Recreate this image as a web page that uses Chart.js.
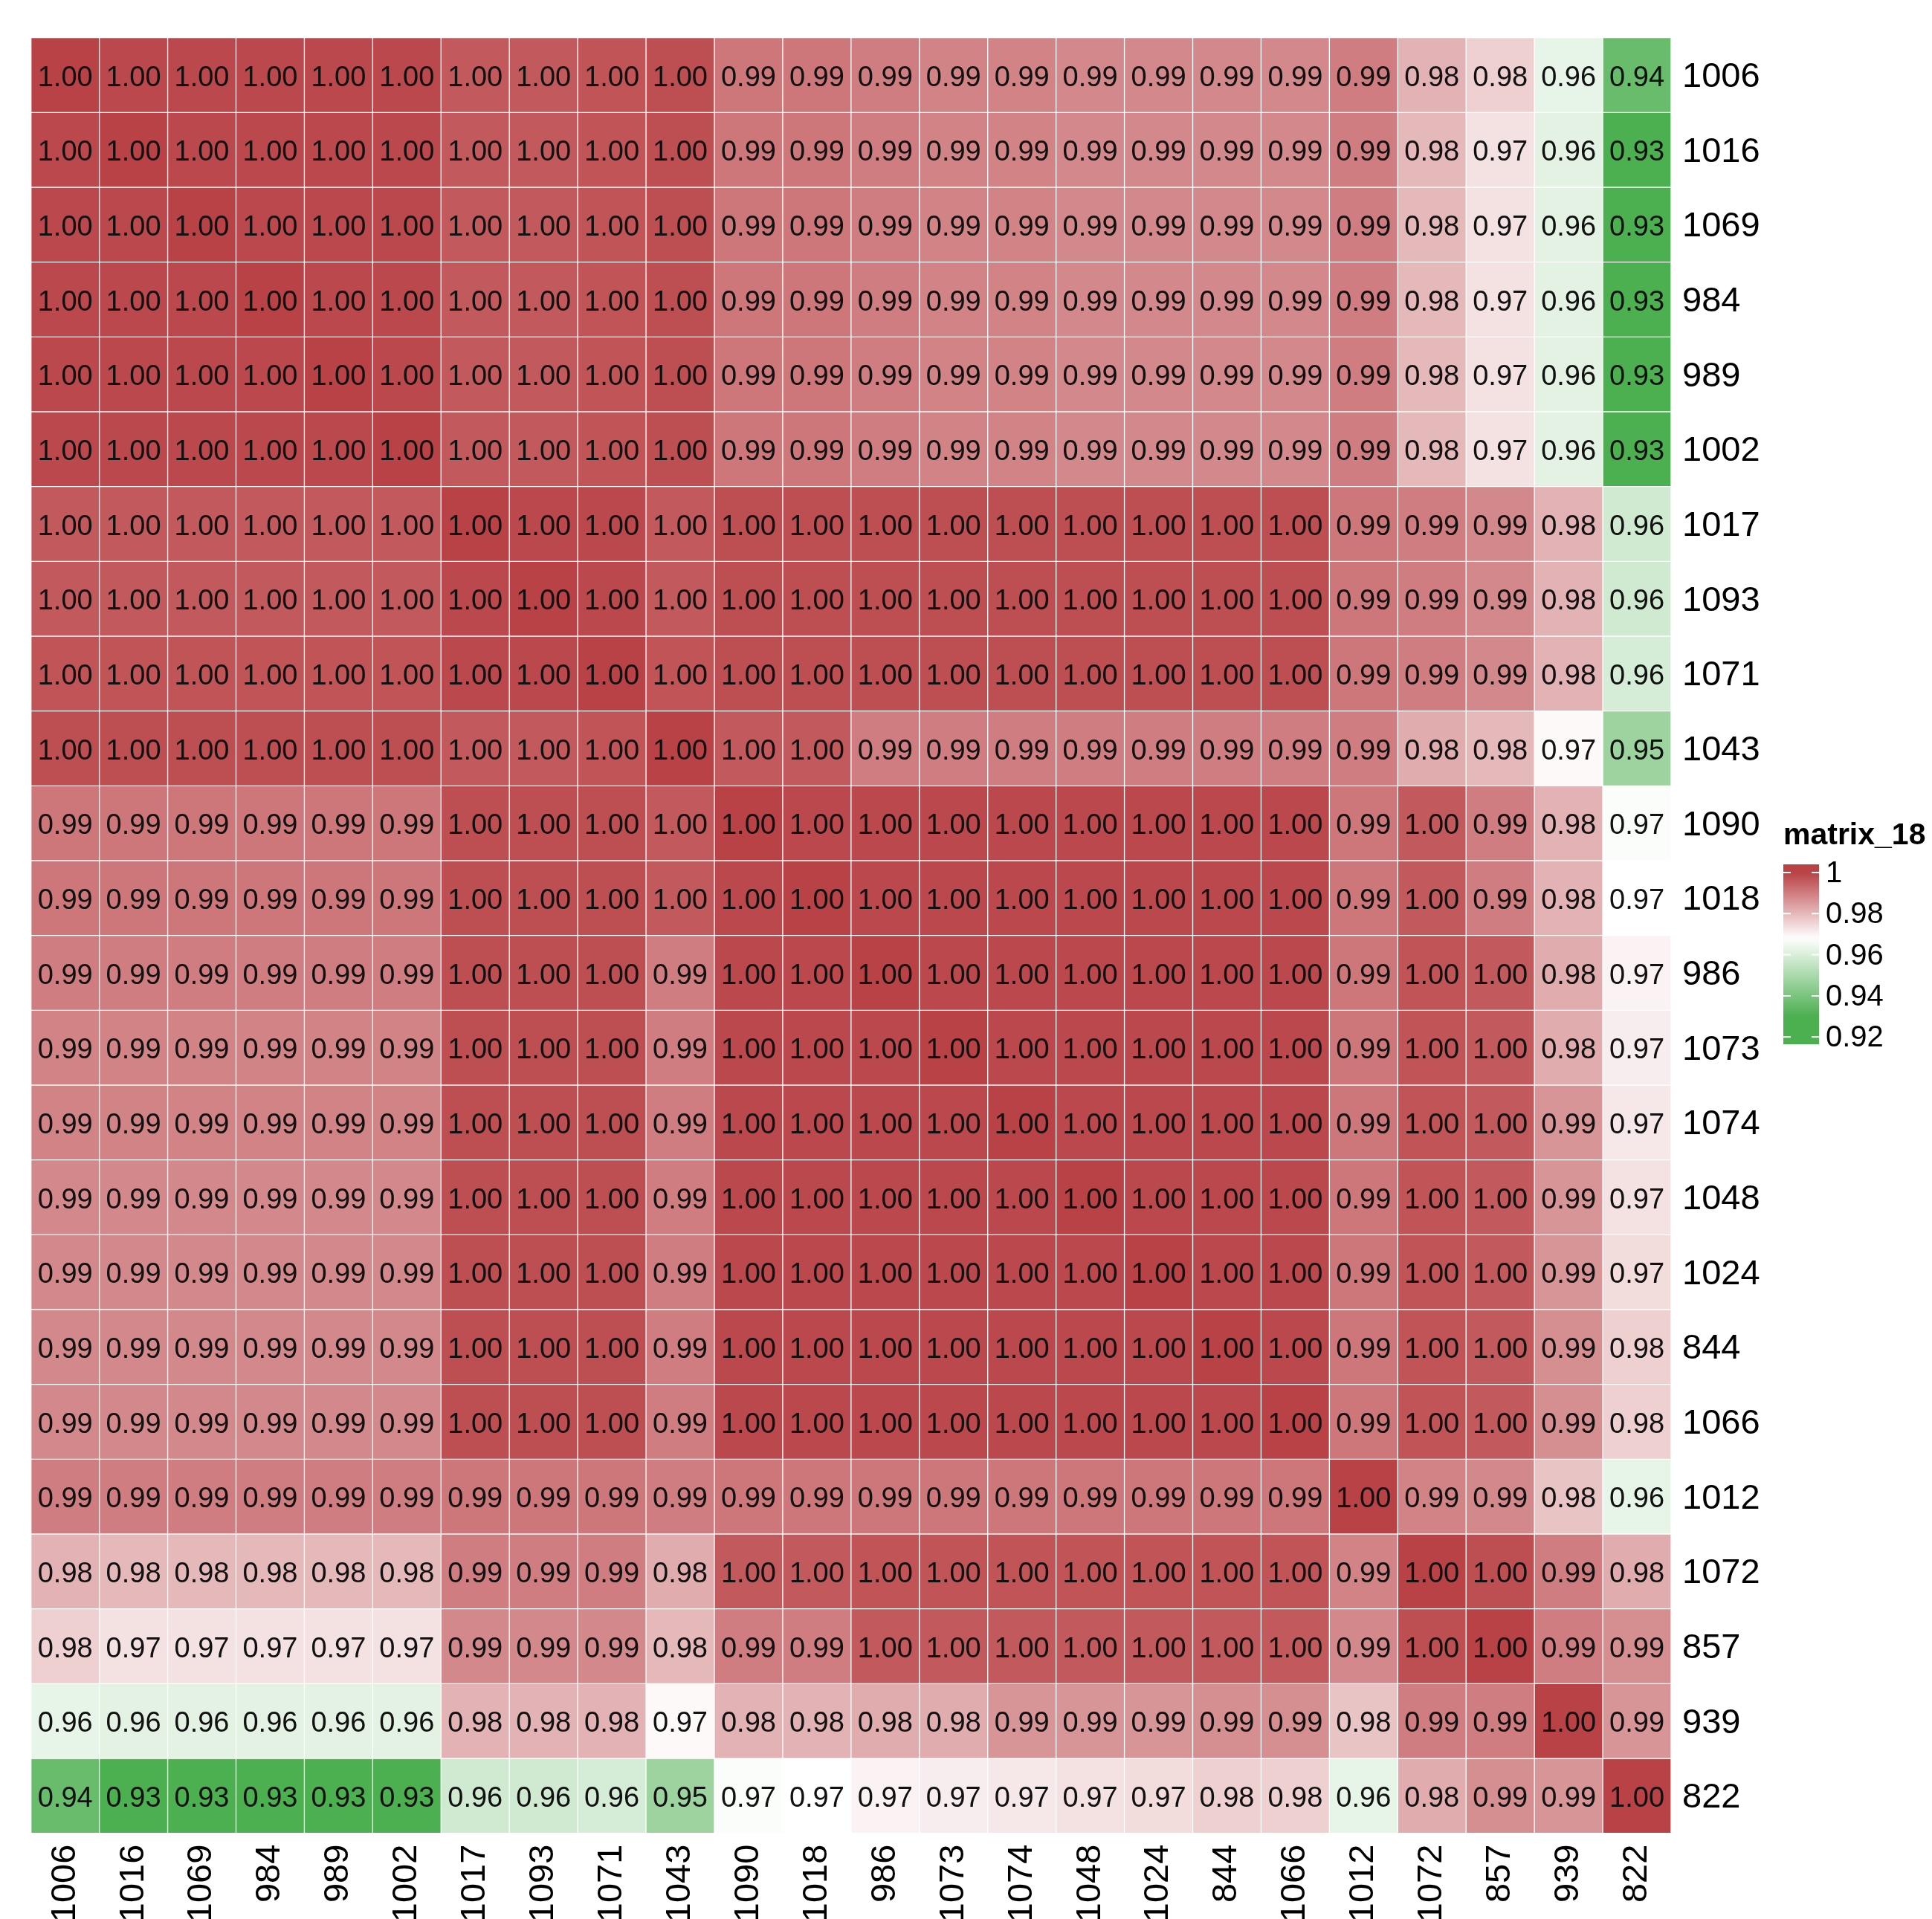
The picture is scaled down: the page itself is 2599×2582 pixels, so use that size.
<!DOCTYPE html>
<html>
<head>
<meta charset="utf-8">
<script src="https://cdn.jsdelivr.net/npm/chart.js@4.4.1/dist/chart.umd.min.js"></script>
<style>
  html, body { margin: 0; padding: 0; background: #ffffff; }
  #wrap { position: relative; width: 2599px; height: 2582px; }
</style>
</head>
<body>
<div id="wrap"><canvas id="heatmap"></canvas></div>
<script>
const LABELS = ["1006", "1016", "1069", "984", "989", "1002", "1017", "1093", "1071", "1043", "1090", "1018",
  "986", "1073", "1074", "1048", "1024", "844", "1066", "1012", "1072", "857", "939", "822"];

// one row per sample, columns in LABELS order
const r1006 = [1.000, 0.999, 0.999, 0.999, 0.999, 0.999, 0.996, 0.996, 0.997, 0.998, 0.991, 0.991, 0.990, 0.989, 0.989, 0.988, 0.988, 0.988, 0.988, 0.990, 0.981, 0.976, 0.963, 0.936];
const r1016 = [0.999, 1.000, 0.999, 0.999, 0.999, 0.999, 0.996, 0.996, 0.997, 0.998, 0.991, 0.991, 0.990, 0.989, 0.989, 0.988, 0.988, 0.988, 0.988, 0.990, 0.980, 0.973, 0.962, 0.929];
const r1069 = [0.999, 0.999, 1.000, 0.999, 0.999, 0.999, 0.996, 0.996, 0.997, 0.998, 0.991, 0.991, 0.990, 0.989, 0.989, 0.988, 0.988, 0.988, 0.988, 0.990, 0.980, 0.973, 0.962, 0.929];
const r984 = [0.999, 0.999, 0.999, 1.000, 0.999, 0.999, 0.996, 0.996, 0.997, 0.998, 0.991, 0.991, 0.990, 0.989, 0.989, 0.988, 0.988, 0.988, 0.988, 0.990, 0.980, 0.973, 0.962, 0.929];
const r989 = [0.999, 0.999, 0.999, 0.999, 1.000, 0.999, 0.996, 0.996, 0.997, 0.998, 0.991, 0.991, 0.990, 0.989, 0.989, 0.988, 0.988, 0.988, 0.988, 0.990, 0.980, 0.973, 0.962, 0.929];
const r1002 = [0.999, 0.999, 0.999, 0.999, 0.999, 1.000, 0.996, 0.996, 0.997, 0.998, 0.991, 0.991, 0.990, 0.989, 0.989, 0.988, 0.988, 0.988, 0.988, 0.990, 0.980, 0.973, 0.962, 0.929];
const r1017 = [0.996, 0.996, 0.996, 0.996, 0.996, 0.996, 1.000, 0.999, 0.999, 0.996, 0.998, 0.998, 0.998, 0.998, 0.998, 0.998, 0.998, 0.998, 0.998, 0.991, 0.990, 0.988, 0.981, 0.958];
const r1093 = [0.996, 0.996, 0.996, 0.996, 0.996, 0.996, 0.999, 1.000, 0.999, 0.996, 0.998, 0.998, 0.998, 0.998, 0.998, 0.998, 0.998, 0.998, 0.998, 0.991, 0.990, 0.988, 0.981, 0.958];
const r1071 = [0.997, 0.997, 0.997, 0.997, 0.997, 0.997, 0.999, 0.999, 1.000, 0.997, 0.998, 0.998, 0.998, 0.998, 0.998, 0.998, 0.998, 0.998, 0.998, 0.991, 0.990, 0.988, 0.981, 0.959];
const r1043 = [0.998, 0.998, 0.998, 0.998, 0.998, 0.998, 0.996, 0.996, 0.997, 1.000, 0.996, 0.996, 0.990, 0.990, 0.990, 0.990, 0.990, 0.990, 0.990, 0.990, 0.982, 0.980, 0.969, 0.947];
const r1090 = [0.991, 0.991, 0.991, 0.991, 0.991, 0.991, 0.998, 0.998, 0.998, 0.996, 1.000, 0.999, 0.999, 0.999, 0.999, 0.999, 0.999, 0.999, 0.999, 0.991, 0.996, 0.990, 0.981, 0.967];
const r1018 = [0.991, 0.991, 0.991, 0.991, 0.991, 0.991, 0.998, 0.998, 0.998, 0.996, 0.999, 1.000, 0.999, 0.999, 0.999, 0.999, 0.999, 0.999, 0.999, 0.991, 0.996, 0.990, 0.981, 0.968];
const r986 = [0.990, 0.990, 0.990, 0.990, 0.990, 0.990, 0.998, 0.998, 0.998, 0.990, 0.999, 0.999, 1.000, 0.999, 0.999, 0.999, 0.999, 0.999, 0.999, 0.991, 0.997, 0.996, 0.982, 0.970];
const r1073 = [0.989, 0.989, 0.989, 0.989, 0.989, 0.989, 0.998, 0.998, 0.998, 0.990, 0.999, 0.999, 0.999, 1.000, 0.999, 0.999, 0.999, 0.999, 0.999, 0.991, 0.997, 0.996, 0.982, 0.971];
const r1074 = [0.989, 0.989, 0.989, 0.989, 0.989, 0.989, 0.998, 0.998, 0.998, 0.990, 0.999, 0.999, 0.999, 0.999, 1.000, 0.999, 0.999, 0.999, 0.999, 0.991, 0.997, 0.996, 0.986, 0.972];
const r1048 = [0.988, 0.988, 0.988, 0.988, 0.988, 0.988, 0.998, 0.998, 0.998, 0.990, 0.999, 0.999, 0.999, 0.999, 0.999, 1.000, 0.999, 0.999, 0.999, 0.991, 0.997, 0.996, 0.986, 0.973];
const r1024 = [0.988, 0.988, 0.988, 0.988, 0.988, 0.988, 0.998, 0.998, 0.998, 0.990, 0.999, 0.999, 0.999, 0.999, 0.999, 0.999, 1.000, 0.999, 0.999, 0.991, 0.997, 0.996, 0.986, 0.974];
const r844 = [0.988, 0.988, 0.988, 0.988, 0.988, 0.988, 0.998, 0.998, 0.998, 0.990, 0.999, 0.999, 0.999, 0.999, 0.999, 0.999, 0.999, 1.000, 0.999, 0.991, 0.997, 0.996, 0.987, 0.976];
const r1066 = [0.988, 0.988, 0.988, 0.988, 0.988, 0.988, 0.998, 0.998, 0.998, 0.990, 0.999, 0.999, 0.999, 0.999, 0.999, 0.999, 0.999, 0.999, 1.000, 0.991, 0.997, 0.996, 0.987, 0.976];
const r1012 = [0.990, 0.990, 0.990, 0.990, 0.990, 0.990, 0.991, 0.991, 0.991, 0.990, 0.991, 0.991, 0.991, 0.991, 0.991, 0.991, 0.991, 0.991, 0.991, 1.000, 0.989, 0.988, 0.978, 0.963];
const r1072 = [0.981, 0.980, 0.980, 0.980, 0.980, 0.980, 0.990, 0.990, 0.990, 0.982, 0.996, 0.996, 0.997, 0.997, 0.997, 0.997, 0.997, 0.997, 0.997, 0.989, 1.000, 0.998, 0.990, 0.982];
const r857 = [0.976, 0.973, 0.973, 0.973, 0.973, 0.973, 0.988, 0.988, 0.988, 0.980, 0.990, 0.990, 0.996, 0.996, 0.996, 0.996, 0.996, 0.996, 0.996, 0.988, 0.998, 1.000, 0.990, 0.987];
const r939 = [0.963, 0.962, 0.962, 0.962, 0.962, 0.962, 0.981, 0.981, 0.981, 0.969, 0.981, 0.981, 0.982, 0.982, 0.986, 0.986, 0.986, 0.987, 0.987, 0.978, 0.990, 0.990, 1.000, 0.986];
const r822 = [0.936, 0.929, 0.929, 0.929, 0.929, 0.929, 0.958, 0.958, 0.959, 0.947, 0.967, 0.968, 0.970, 0.971, 0.972, 0.973, 0.974, 0.976, 0.976, 0.963, 0.982, 0.987, 0.986, 1.000];

const LEGEND_TICKS = [1, 0.98, 0.96, 0.94, 0.92];
const LEGEND_TICK_LABELS = ["1", "0.98", "0.96", "0.94", "0.92"];
const LEGEND_TITLE = "matrix_18";

const ROWS = [r1006, r1016, r1069, r984, r989, r1002, r1017, r1093, r1071, r1043, r1090, r1018,
  r986, r1073, r1074, r1048, r1024, r844, r1066, r1012, r1072, r857, r939, r822];

const FONT = "'Liberation Sans', Arial, Helvetica, sans-serif";
const RED = [185, 66, 70];
const GREEN = [76, 175, 80];
const MID = 0.968;
const LOW = 0.930;

function mix(a, b, t) {
  return a.map((v, i) => Math.round(v + (b[i] - v) * t));
}

function colorFor(value) {
  const white = [255, 255, 255];
  let rgb;
  if (value >= MID) {
    rgb = mix(white, RED, Math.min(1, (value - MID) / (1 - MID)));
  } else {
    rgb = mix(white, GREEN, Math.min(1, (MID - value) / (MID - LOW)));
  }
  return `rgb(${rgb[0]},${rgb[1]},${rgb[2]})`;
}

function createCellTextPlugin() {
  return {
    id: "cell-text",
    afterDatasetsDraw(chart) {
      const { ctx } = chart;
      ctx.save();
      ctx.font = `38px ${FONT}`;
      ctx.fillStyle = "#111111";
      ctx.textAlign = "center";
      ctx.textBaseline = "middle";
      chart.data.datasets.forEach((dataset, datasetIndex) => {
        const meta = chart.getDatasetMeta(datasetIndex);
        meta.data.forEach((bar, index) => {
          const value = ROWS[datasetIndex][index];
          ctx.fillText(value.toFixed(2), bar.x, (bar.y + bar.base) / 2 + 4);
        });
      });
      ctx.restore();
    },
  };
}

function createColorLegendPlugin() {
  return {
    id: "color-legend",
    afterDraw(chart) {
      const { ctx } = chart;
      const left = 2399;
      const width = 48;
      const top = 1163;
      const bottom = 1405;
      const tickTop = 1174;
      const tickStep = 55.3;
      const valueAt = (y) => 1 - ((y - tickTop) / tickStep) * 0.02;
      ctx.save();

      ctx.font = `bold 41px ${FONT}`;
      ctx.fillStyle = "#000000";
      ctx.textAlign = "left";
      ctx.textBaseline = "alphabetic";
      ctx.fillText(LEGEND_TITLE, left, 1136);

      const gradient = ctx.createLinearGradient(0, top, 0, bottom);
      for (let i = 0; i <= 40; i++) {
        const y = top + ((bottom - top) * i) / 40;
        gradient.addColorStop(i / 40, colorFor(valueAt(y)));
      }
      ctx.fillStyle = gradient;
      ctx.fillRect(left, top, width, bottom - top);

      ctx.strokeStyle = "#ffffff";
      ctx.lineWidth = 2;
      ctx.font = `40px ${FONT}`;
      ctx.fillStyle = "#000000";
      ctx.textBaseline = "middle";
      LEGEND_TICKS.forEach((tick, i) => {
        const y = tickTop + ((1 - tick) / 0.02) * tickStep;
        ctx.beginPath();
        ctx.moveTo(left, y);
        ctx.lineTo(left + 10, y);
        ctx.moveTo(left + width - 10, y);
        ctx.lineTo(left + width, y);
        ctx.stroke();
        ctx.fillText(LEGEND_TICK_LABELS[i], left + width + 9, y + 2);
      });
      ctx.restore();
    },
  };
}

new Chart(document.getElementById("heatmap"), {
  type: "bar",
  data: {
    labels: LABELS,
    datasets: ROWS.map((row, r) => ({
      label: LABELS[r],
      data: row.map(() => 1),
      backgroundColor: row.map(colorFor),
      borderColor: "rgba(255,255,255,0.11)",
      borderWidth: 1,
      borderSkipped: false,
      barPercentage: 1,
      categoryPercentage: 1,
      stack: "cells",
    })),
  },
  options: {
    responsive: true,
    maintainAspectRatio: false,
    animation: false,
    layout: { padding: { left: 41.7, top: 50.7, right: 0, bottom: 0 } },
    plugins: {
      legend: { display: false },
      tooltip: { enabled: false },
    },
    scales: {
      x: {
        stacked: true,
        grid: { display: false, drawTicks: false },
        border: { display: false },
        ticks: {
          autoSkip: false,
          minRotation: 90,
          maxRotation: 90,
          padding: 15,
          color: "#000000",
          font: { family: FONT, size: 47 },
        },
        afterFit(scale) { scale.height = 115.3; },
      },
      y: {
        stacked: true,
        reverse: true,
        min: 0,
        max: LABELS.length,
        display: false,
      },
      rows: {
        type: "category",
        labels: LABELS,
        position: "right",
        offset: true,
        grid: { display: false, drawTicks: false },
        border: { display: false },
        ticks: {
          autoSkip: false,
          padding: 15,
          labelOffset: 3,
          color: "#000000",
          font: { family: FONT, size: 47 },
        },
        afterFit(scale) { scale.width = 351; },
      },
    },
  },
  plugins: [createCellTextPlugin(), createColorLegendPlugin()],
});
</script>
</body>
</html>
